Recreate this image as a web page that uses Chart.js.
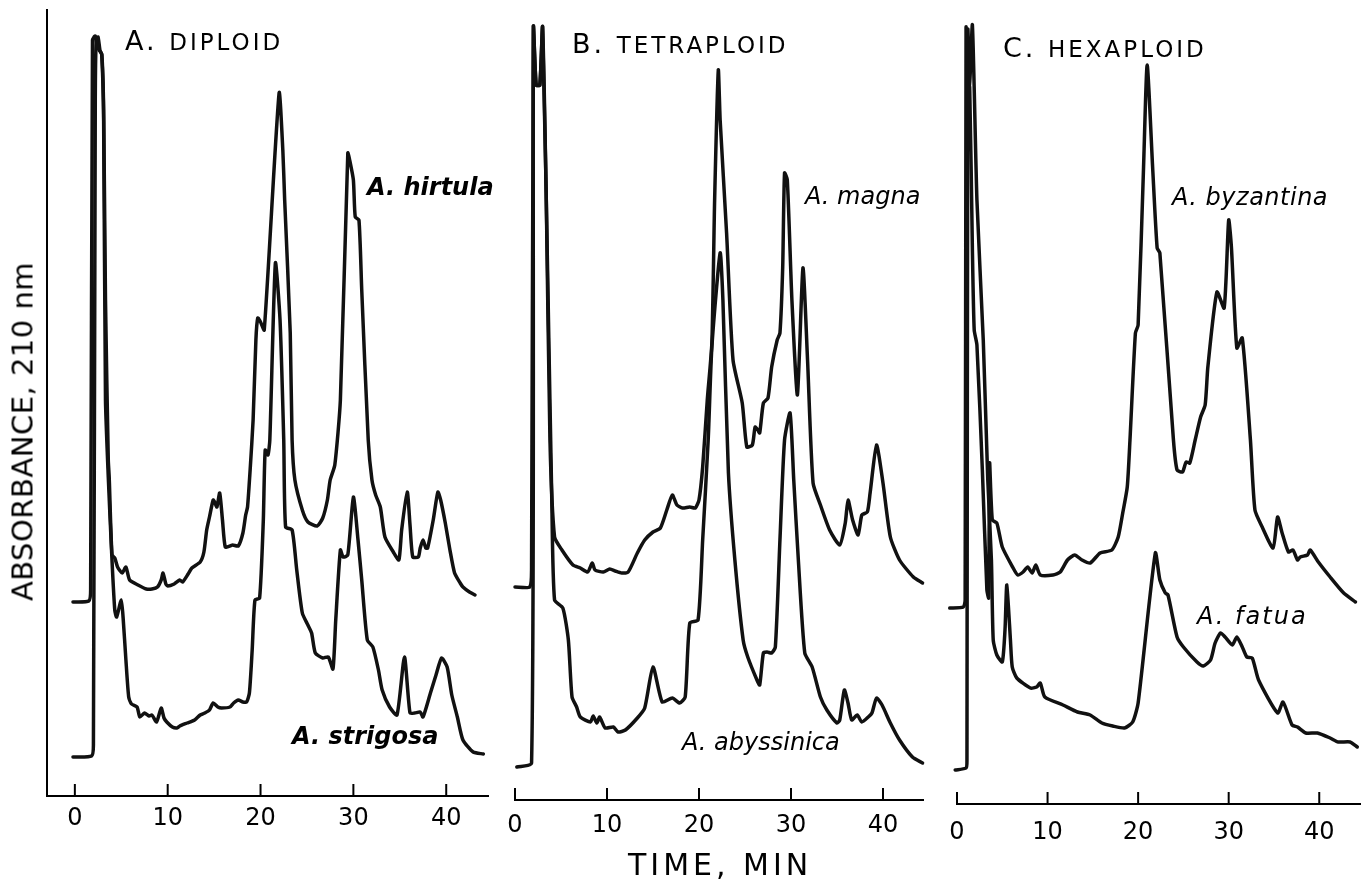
<!DOCTYPE html>
<html>
<head>
<meta charset="utf-8">
<script src="https://cdn.jsdelivr.net/npm/chart.js@4.4.0/dist/chart.umd.min.js"></script>
<style>
  body { margin: 0; background: #fff; width: 1363px; height: 880px; overflow: hidden; position: relative;
         font-family: "DejaVu Sans", sans-serif; color: #000; }
  canvas { position: absolute; top: 0; }
  .lbl { position: absolute; white-space: nowrap; line-height: 1; }
  .title { font-size: 27px; line-height: 27px; letter-spacing: 3px; }
  .title span { font-size: 23px; }
  .sp { font-size: 24px; font-style: italic; }
</style>
</head>
<body>
<canvas id="chartA" width="500" height="880" style="left:0px"></canvas>
<canvas id="chartB" width="460" height="880" style="left:490px"></canvas>
<canvas id="chartC" width="433" height="880" style="left:930px"></canvas>

<div class="lbl title" style="left:125px;top:27px">A. <span>DIPLOID</span></div>
<div class="lbl title" style="left:572px;top:30px">B. <span>TETRAPLOID</span></div>
<div class="lbl title" style="left:1003px;top:34px">C. <span>HEXAPLOID</span></div>

<div class="lbl sp" style="left:367px;top:175px;font-weight:bold">A. hirtula</div>
<div class="lbl sp" style="left:292px;top:724px;font-weight:bold">A. strigosa</div>
<div class="lbl sp" style="left:805px;top:184px">A. magna</div>
<div class="lbl sp" style="left:682px;top:730px">A. abyssinica</div>
<div class="lbl sp" style="left:1172px;top:185px;letter-spacing:0.5px">A. byzantina</div>
<div class="lbl sp" style="left:1197px;top:604px;letter-spacing:2px">A. fatua</div>

<div class="lbl" style="left:628px;top:850px;font-size:30px;letter-spacing:4px">TIME, MIN</div>
<div class="lbl" style="left:-177px;top:417px;width:400px;text-align:center;font-size:29px;letter-spacing:0.5px;transform:rotate(-90deg)">ABSORBANCE, 210 nm</div>

<script>
// time axis ticks (min)
var timeTicks = [0, 10, 20, 30, 40];
var species = ['A. hirtula', 'A. strigosa', 'A. magna', 'A. abyssinica', 'A. byzantina', 'A. fatua'];

// [time (min), absorbance (mAU, offset trace)]
var hirtula = [[-0.2,194],[1.5,195],[1.7,206],[1.9,756],[2.2,760],[2.4,751],[2.6,746],[2.9,742],[3.1,686],[3.3,496],[3.6,336],[3.7,319],[4.0,241],[4.3,238],[4.6,229],[5.1,223],[5.5,229],[5.9,216],[6.8,211],[7.7,207],[8.3,207],[8.9,209],[9.3,216],[9.5,223],[9.8,212],[10.0,210],[10.7,212],[11.3,216],[11.6,214],[12.2,222],[12.6,228],[13.5,234],[13.9,244],[14.2,266],[14.5,279],[14.9,296],[15.1,293],[15.3,289],[15.6,303],[15.9,276],[16.2,249],[16.7,250],[17.0,251],[17.6,250],[18.1,263],[18.4,281],[18.6,289],[18.9,329],[19.2,376],[19.5,456],[19.7,478],[20.0,474],[20.4,466],[22.0,703],[22.4,646],[22.6,596],[23.2,463],[23.4,356],[23.7,316],[24.5,286],[25.1,274],[26.1,270],[26.7,278],[27.2,296],[27.5,316],[28.0,331],[28.6,396],[29.4,643],[29.6,636],[30.0,616],[30.2,579],[30.6,576],[30.9,506],[31.6,356],[32.0,316],[32.4,301],[32.9,289],[33.4,259],[34.3,244],[34.9,236],[35.2,266],[35.8,304],[36.1,271],[36.4,239],[37.0,239],[37.2,248],[37.5,256],[37.8,248],[38.0,248],[38.6,276],[39.1,304],[39.4,296],[39.9,273],[40.4,246],[40.9,223],[41.5,213],[41.8,209],[42.5,204],[43.1,201]];
var strigosa = [[-0.2,39],[1.8,40],[2.0,51],[2.2,696],[2.3,756],[2.5,759],[2.7,746],[2.9,741],[3.1,676],[3.3,396],[3.6,319],[4.0,236],[4.3,186],[4.5,179],[5.0,196],[5.2,178],[5.5,136],[5.8,99],[6.1,92],[6.7,89],[7.0,79],[7.5,83],[8.0,80],[8.3,81],[8.8,74],[9.3,88],[9.6,78],[9.9,74],[10.5,69],[11.0,68],[11.3,70],[12.1,73],[12.9,76],[13.5,81],[14.0,83],[14.5,86],[14.9,93],[15.4,89],[15.8,88],[16.7,89],[17.1,93],[17.6,96],[18.1,94],[18.5,94],[18.8,103],[19.1,146],[19.4,196],[19.9,198],[20.3,276],[20.5,346],[20.8,341],[21.0,356],[21.6,533],[22.1,476],[22.5,356],[22.7,269],[23.4,266],[23.9,226],[24.5,183],[25.1,171],[25.5,163],[25.9,143],[26.7,138],[27.3,139],[27.8,127],[28.1,176],[28.6,246],[28.9,239],[29.4,241],[30.0,299],[30.5,256],[30.9,216],[31.5,156],[32.1,149],[32.7,126],[33.1,106],[33.9,89],[34.7,81],[35.5,139],[36.1,83],[36.6,83],[37.2,84],[37.5,79],[38.3,103],[38.9,121],[39.5,138],[40.1,129],[40.6,101],[41.2,79],[41.8,56],[42.9,44],[44.0,42]];
var magna = [[0.0,213],[1.6,213],[1.8,230],[2.0,773],[2.3,715],[2.7,715],[3.0,773],[3.4,600],[3.8,360],[4.3,263],[5.1,250],[6.3,235],[7.1,232],[7.9,228],[8.4,237],[8.7,230],[9.6,228],[10.3,231],[10.9,229],[11.6,227],[12.3,228],[13.3,247],[14.1,260],[15.0,268],[15.8,272],[16.5,290],[17.1,305],[17.6,295],[18.2,292],[19.0,293],[19.6,292],[20.0,300],[20.4,333],[20.9,400],[21.4,457],[21.7,600],[22.1,730],[22.3,680],[23.0,567],[23.7,440],[24.7,397],[25.2,353],[25.8,355],[26.1,373],[26.4,370],[26.6,367],[27.0,397],[27.5,402],[27.9,433],[28.5,460],[28.8,467],[29.1,533],[29.3,627],[29.6,620],[30.1,500],[30.7,405],[31.3,532],[31.8,440],[32.4,317],[33.2,295],[34.2,270],[35.3,255],[35.9,277],[36.2,300],[36.7,280],[37.3,265],[37.7,285],[38.3,288],[38.6,307],[39.3,355],[40.0,317],[40.8,263],[41.8,240],[43.3,223],[44.3,217]];
var abyssinica = [[0.2,33],[1.8,37],[2.0,773],[2.3,715],[2.7,715],[3.0,773],[3.6,500],[4.0,300],[4.3,200],[5.2,192],[5.8,160],[6.2,103],[6.7,93],[7.1,83],[8.2,78],[8.5,84],[8.9,77],[9.2,83],[9.8,72],[10.7,73],[11.2,68],[12.0,70],[13.3,82],[14.1,92],[15.0,133],[16.0,98],[17.1,102],[17.9,97],[18.5,103],[19.0,177],[19.9,180],[20.4,260],[21.0,360],[21.4,453],[22.3,547],[22.6,500],[23.2,327],[23.9,240],[24.8,160],[25.3,143],[26.3,120],[26.6,115],[27.0,147],[27.4,148],[27.9,147],[28.3,153],[28.8,260],[29.3,360],[29.9,387],[30.3,320],[30.8,240],[31.5,147],[32.3,133],[33.2,103],[33.9,90],[35.0,77],[35.3,80],[35.8,110],[36.2,97],[36.6,80],[37.2,85],[37.7,78],[38.4,83],[38.8,87],[39.3,102],[39.9,95],[40.8,77],[41.8,60],[43.2,43],[44.3,37]];
var byzantina = [[-0.8,196],[0.7,197],[0.9,204],[1.0,776],[1.2,654],[1.4,717],[1.7,554],[1.9,474],[2.2,459],[2.8,334],[3.3,214],[3.5,206],[3.6,341],[3.9,284],[4.4,281],[5.0,257],[6.2,236],[6.7,229],[7.3,232],[7.8,237],[8.3,231],[8.7,239],[9.2,229],[10.6,229],[11.4,232],[12.2,244],[13.0,249],[13.8,244],[14.7,241],[15.8,251],[17.1,254],[17.8,267],[18.3,291],[18.8,317],[19.1,364],[19.7,471],[20.0,479],[20.6,637],[21.0,739],[21.6,637],[22.1,556],[22.4,551],[23.9,364],[24.3,334],[24.9,332],[25.3,342],[25.7,341],[26.3,364],[26.9,387],[27.4,399],[27.7,437],[28.7,512],[29.5,496],[30.0,584],[30.3,557],[30.9,456],[31.5,466],[32.4,364],[32.9,294],[33.7,277],[34.9,256],[35.4,287],[35.9,271],[36.6,252],[37.1,254],[37.6,244],[37.9,247],[38.7,249],[39.0,254],[39.9,242],[41.2,227],[42.7,211],[44.0,202]];
var fatua = [[-0.2,34],[1.0,36],[1.1,44],[1.2,774],[1.4,719],[1.7,779],[2.2,604],[2.9,464],[3.4,324],[3.8,244],[4.0,164],[4.4,149],[5.0,142],[5.3,174],[5.5,219],[5.9,164],[6.1,137],[6.6,126],[8.1,116],[8.8,117],[9.2,121],[9.7,107],[11.7,99],[13.3,92],[14.7,89],[16.0,81],[17.2,78],[18.5,76],[19.4,82],[20.0,101],[21.9,251],[22.4,224],[23.0,211],[23.3,209],[24.3,167],[25.0,157],[26.5,142],[27.2,138],[28.0,144],[28.5,161],[29.1,171],[29.6,167],[30.4,159],[30.9,167],[31.5,157],[32.0,147],[32.6,146],[33.3,124],[35.4,91],[36.0,102],[37.0,79],[37.6,77],[38.5,71],[39.8,71],[41.2,66],[42.1,62],[43.4,62],[44.2,57]];

// tick marks pointing up into the plot, like the original
var innerTicks = {
    id: 'innerTicks',
    afterDraw: function(chart) {
        var x = chart.scales.x;
        var ctx = chart.ctx;
        var y0 = chart.chartArea.bottom;
        ctx.save();
        ctx.strokeStyle = '#000';
        ctx.lineWidth = 2;
        x.ticks.forEach(function(t) {
            var px = x.getPixelForValue(t.value);
            ctx.beginPath();
            ctx.moveTo(px, y0);
            ctx.lineTo(px, y0 - 12);
            ctx.stroke();
        });
        ctx.restore();
    }
};

function trace(pts, label) {
    return {
        label: label,
        data: pts.map(function(p) { return { x: p[0], y: p[1] }; }),
        borderColor: '#111',
        borderWidth: 3.5,
        borderJoinStyle: 'round',
        borderCapStyle: 'round',
        pointRadius: 0,
        tension: 0.2,
        clip: false
    };
}

function panel(id, sets, o) {
    new Chart(document.getElementById(id), {
        type: 'line',
        data: { datasets: sets },
        plugins: [innerTicks],
        options: {
            responsive: false,
            animation: false,
            layout: { padding: { left: o.left, right: o.right, top: 10, bottom: o.bottom } },
            plugins: { legend: { display: false }, tooltip: { enabled: false } },
            scales: {
                x: {
                    type: 'linear',
                    min: o.min,
                    max: o.max,
                    afterFit: function(s) { s.height = 50; },
                    afterBuildTicks: function(s) { s.ticks = timeTicks.map(function(v) { return { value: v }; }); },
                    grid: { display: false, drawTicks: false },
                    border: { display: true, color: '#000', width: 2 },
                    ticks: { color: '#000', font: { family: 'DejaVu Sans', size: 24 }, padding: o.pad, maxRotation: 0, autoSkip: false }
                },
                y: {
                    display: o.yAxis,
                    min: 0,
                    max: o.ymax,
                    afterFit: function(s) { s.width = 0; },
                    ticks: { display: false },
                    grid: { display: false },
                    border: { display: true, color: '#000', width: 2 }
                }
            }
        }
    });
}

panel('chartA', [trace(hirtula, species[0]), trace(strigosa, species[1])],
      { left: 47, right: 12, bottom: 34, min: -3, max: 44.5, ymax: 786, pad: 8, yAxis: true });
panel('chartB', [trace(magna, species[2]), trace(abyssinica, species[3])],
      { left: 25, right: 27, bottom: 30, min: 0, max: 44.35, ymax: 790, pad: 11, yAxis: false });
panel('chartC', [trace(byzantina, species[4]), trace(fatua, species[5])],
      { left: 27, right: 3, bottom: 26, min: 0, max: 44.5, ymax: 794, pad: 14, yAxis: false });
</script>
</body>
</html>
